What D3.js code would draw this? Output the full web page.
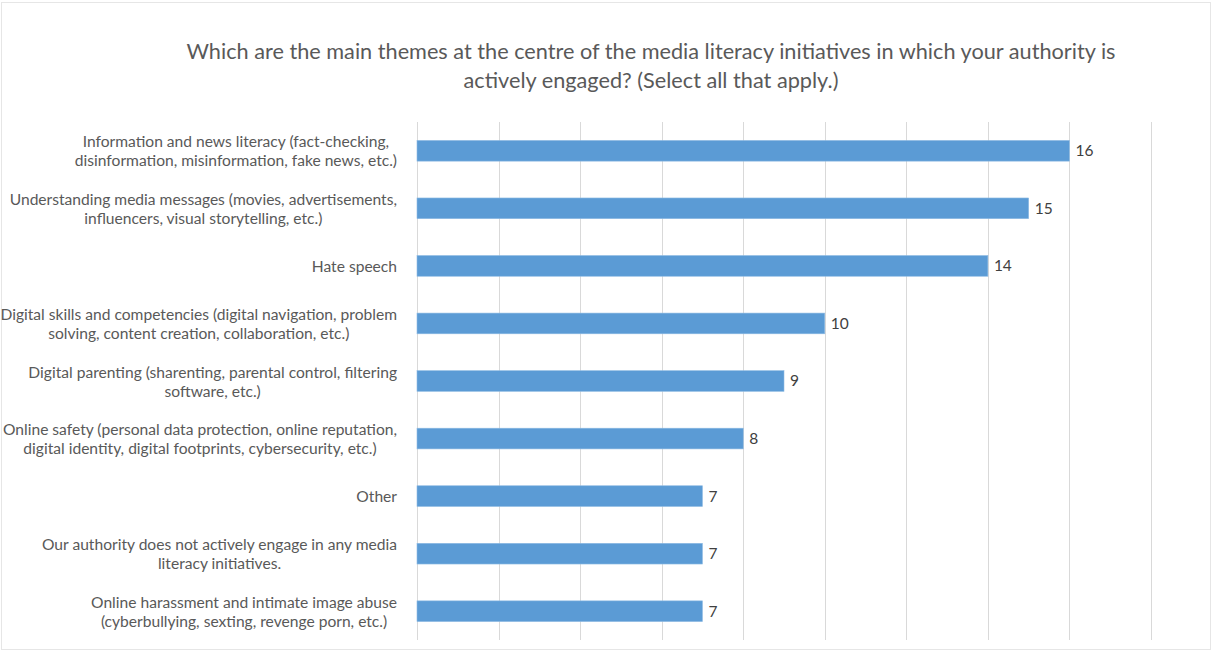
<!DOCTYPE html>
<html>
<head>
<meta charset="utf-8">
<script src="https://cdn.jsdelivr.net/npm/d3@7"></script>
<style>
  html, body { margin: 0; padding: 0; background: #fff; }
  svg { display: block; }
</style>
</head>
<body>
<svg id="chart" width="1212" height="651"></svg>
<script>
// Themes (each entry is the wrapped lines of its axis label), top to bottom
const categories = [
  ["Information and news literacy (fact-checking,", "disinformation, misinformation, fake news, etc.)"],
  ["Understanding media messages (movies, advertisements,", "influencers, visual storytelling, etc.)"],
  ["Hate speech"],
  ["Digital skills and competencies (digital navigation, problem", "solving, content creation, collaboration, etc.)"],
  ["Digital parenting (sharenting, parental control, filtering", "software, etc.)"],
  ["Online safety (personal data protection, online reputation,", "digital identity, digital footprints, cybersecurity, etc.)"],
  ["Other"],
  ["Our authority does not actively engage in any media", "literacy initiatives."],
  ["Online harassment and intimate image abuse", "(cyberbullying, sexting, revenge porn, etc.)"]
];
const values = [16, 15, 14, 10, 9, 8, 7, 7, 7];
const gridTicks = [0, 2, 4, 6, 8, 10, 12, 14, 16, 18];
const titleLines = [
  "Which are the main themes at the centre of the media literacy initiatives in which your authority is",
  "actively engaged? (Select all that apply.)"
];

const FONT = "Lato, 'Open Sans', sans-serif";
const svg = d3.select("#chart");
const W = 1212, H = 651;

// outer chart frame
svg.append("rect")
  .attr("x", 1.5).attr("y", 2.5)
  .attr("width", W - 3).attr("height", H - 4)
  .attr("fill", "#fff").attr("stroke", "#e6e6e6").attr("stroke-width", 1);

const plot = { left: 417, right: 1151, top: 122, bottom: 640 };

const x = d3.scaleLinear().domain([0, 18]).range([plot.left, plot.right]);
const y = d3.scaleBand()
  .domain(d3.range(categories.length))
  .range([plot.top, plot.bottom])
  .paddingInner(0.64).paddingOuter(0.32);

// title
svg.append("text")
  .attr("x", 651).attr("y", 59)
  .attr("text-anchor", "middle")
  .attr("font-family", FONT).attr("font-size", 21.7)
  .attr("fill", "#595959")
  .selectAll("tspan").data(titleLines).join("tspan")
  .attr("x", 651).attr("dy", (d, i) => i === 0 ? 0 : 29)
  .text(d => d);

// vertical gridlines
svg.append("g")
  .selectAll("line").data(gridTicks).join("line")
  .attr("x1", d => Math.round(x(d)) + 0.5).attr("x2", d => Math.round(x(d)) + 0.5)
  .attr("y1", plot.top).attr("y2", plot.bottom)
  .attr("stroke", "#d9d9d9").attr("stroke-width", 1);

// bars
svg.append("g")
  .selectAll("rect").data(values).join("rect")
  .attr("x", x(0))
  .attr("y", (d, i) => y(i))
  .attr("width", d => x(d) - x(0))
  .attr("height", y.bandwidth())
  .attr("fill", "#5b9bd5")
  .attr("stroke", "#8fbbe3").attr("stroke-width", 0.6);

// value labels
svg.append("g")
  .selectAll("text").data(values).join("text")
  .attr("x", d => x(d) + 6)
  .attr("y", (d, i) => y(i) + y.bandwidth() / 2)
  .attr("dy", "0.35em")
  .attr("font-family", FONT).attr("font-size", 15.5)
  .attr("fill", "#404040")
  .text(d => d);

// category labels: lines centred within a block that is right-aligned to the axis
const labelRight = 397;
const lineH = 19;
const labelG = svg.append("g")
  .attr("font-family", FONT).attr("font-size", 15.6)
  .attr("fill", "#595959");

categories.forEach((lines, i) => {
  const cy = y(i) + y.bandwidth() / 2;
  const t = labelG.append("text").attr("text-anchor", "middle");
  const spans = t.selectAll("tspan").data(lines).join("tspan")
    .attr("dy", (d, k) => k === 0 ? 0 : lineH)
    .text(d => d);
  const widths = spans.nodes().map(n => n.getComputedTextLength());
  const blockW = d3.max(widths);
  const cx = labelRight - blockW / 2;
  spans.attr("x", cx);
  const y0 = cy - (lines.length - 1) * lineH / 2;
  t.attr("y", y0).attr("dominant-baseline", "central");
  spans.attr("dominant-baseline", "central");
});
</script>
</body>
</html>
